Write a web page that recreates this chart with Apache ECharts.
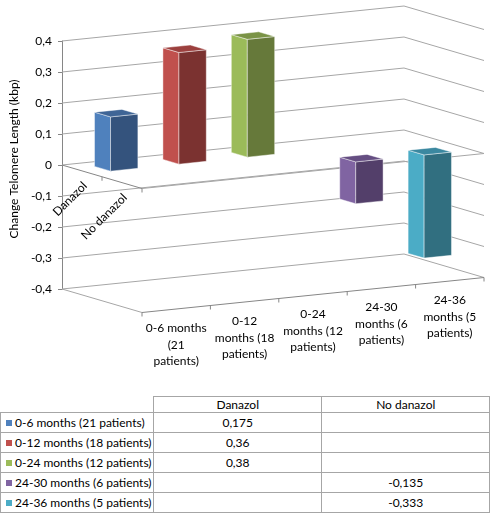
<!DOCTYPE html>
<html>
<head>
<meta charset="utf-8">
<script src="https://cdn.jsdelivr.net/npm/echarts@6/dist/echarts.min.js"></script>
<style>
	body { margin: 0; background: #fff; font-family: Lato, sans-serif; }
	#chart { position: absolute; left: 0; top: 0; width: 490px; height: 394px; }
	#tbl { position: absolute; left: 0; top: 396px; border-collapse: collapse; table-layout: fixed; font-size: 12px; color: #000; }
	#tbl td { border: 1px solid #a6a6a6; padding: 0; text-align: center; white-space: nowrap; overflow: hidden; }
	#tbl tr.hd td { height: 15px; line-height: 15px; }
	#tbl tr.row td { height: 19px; line-height: 19px; }
	#tbl td.corner { border-top: none; border-left: none; }
	#tbl td.nm { text-align: left; padding-left: 5px; }
	#tbl .mk { display: inline-block; width: 6px; height: 6px; margin-right: 3px; vertical-align: 1px; }
</style>
</head>
<body>
<div id="chart"></div>
<table id="tbl"></table>
<script>
// data
var seriesNames = ['0-6 months (21 patients)', '0-12 months (18 patients)', '0-24 months (12 patients)', '24-30 months (6 patients)', '24-36 months (5 patients)'];
var axisLabels = ['0-6 months\n(21\npatients)', '0-12\nmonths (18\npatients)', '0-24\nmonths (12\npatients)', '24-30\nmonths (6\npatients)', '24-36\nmonths (5\npatients)'];
var groups = ['Danazol', 'No danazol'];
var danazol = [0.175, 0.36, 0.38, null, null];
var noDanazol = [null, null, null, -0.135, -0.333];
var yTicks = [-0.4, -0.3, -0.2, -0.1, 0, 0.1, 0.2, 0.3, 0.4];

// bar colours: light side, dark front, top
var palette = [
	{ light: '#4F81BD', dark: '#34537D', top: '#3F6596' },
	{ light: '#C0504D', dark: '#7B3230', top: '#9C403E' },
	{ light: '#9BBB59', dark: '#66793A', top: '#7A9346' },
	{ light: '#8064A2', dark: '#533F6A', top: '#654E82' },
	{ light: '#4BACC6', dark: '#316F80', top: '#3B88A0' }
];

// fake 3d view: depth step in px, skew of the series direction
var DX = 40, DY = 11.75, SKEW = 7, BAR = 0.4;
var NS = seriesNames.length, ND = groups.length;
var FONT = 'Lato';

function proj(api, s, d, v) {
	var p = api.coord([s, v]);
	return [p[0] + d * DX, p[1] - s * SKEW + d * DY];
}

function fmtNum(v) {
	if (v === 0) return '0';
	return String(v).replace('.', ',');
}

var chart = echarts.init(document.getElementById('chart'), null, { renderer: 'canvas' });

// back + side wall gridlines
var wallSeries = {
	type: 'custom',
	silent: true,
	z: 1,
	data: yTicks.map(function (v) { return [0, v]; }),
	encode: { x: 0, y: 1 },
	renderItem: function (params, api) {
		var v = api.value(1);
		return {
			type: 'polyline',
			shape: { points: [proj(api, 0, 0, v), proj(api, NS, 0, v), proj(api, NS, ND, v)] },
			style: { stroke: '#a6a6a6', lineWidth: 1, fill: null }
		};
	}
};

// floor edges, front axis and depth axis
var floorSeries = {
	type: 'custom',
	silent: true,
	z: 2,
	data: [[0, 0]],
	encode: { x: 0, y: 1 },
	renderItem: function (params, api) {
		var lo = yTicks[0];
		var kids = [];
		function line(a, b, col) {
			kids.push({ type: 'line', shape: { x1: a[0], y1: a[1], x2: b[0], y2: b[1] }, style: { stroke: col || '#a6a6a6', lineWidth: 1 } });
		}
		line(proj(api, 0, 0, 0), proj(api, 0, ND, 0), '#868686');
		line(proj(api, 0, ND, 0), proj(api, NS, ND, 0));
		line(proj(api, 0, 0, lo), proj(api, 0, ND, lo));
		line(proj(api, 0, ND, lo), proj(api, NS, ND, lo), '#868686');
		for (var k = 0; k <= NS; k++) {
			var p = proj(api, k, ND, lo);
			line(p, [p[0], p[1] + 4], '#868686');
		}
		for (var j = 1; j <= ND; j++) {
			var q = proj(api, 0, j, 0);
			line(q, [q[0], q[1] + 4], '#868686');
		}
		return { type: 'group', children: kids };
	}
};

// category labels along the front
var frontLabelSeries = {
	type: 'custom',
	silent: true,
	z: 3,
	data: axisLabels.map(function (t, i) { return [i, yTicks[0]]; }),
	encode: { x: 0, y: 1 },
	renderItem: function (params, api) {
		var i = api.value(0);
		var p = proj(api, i + 0.5, ND, yTicks[0]);
		return {
			type: 'text',
			x: p[0], y: p[1] + 11,
			style: {
				text: axisLabels[i], fill: '#000', fontSize: 12, fontFamily: FONT, lineHeight: 16.5,
				align: 'center', verticalAlign: 'top', textAlign: 'center', textVerticalAlign: 'top'
			}
		};
	}
};

// depth labels (Danazol / No danazol)
var depthLabelSeries = {
	type: 'custom',
	silent: true,
	z: 3,
	data: groups.map(function (g, j) { return [0, 0, j]; }),
	encode: { x: 0, y: 1 },
	renderItem: function (params, api) {
		var j = api.value(2);
		var p = proj(api, 0, j + 0.5, 0);
		return {
			type: 'text',
			x: p[0] + 3, y: p[1] + 13,
			rotation: Math.PI / 4,
			style: {
				text: groups[j], fill: '#000', fontSize: 12, fontFamily: FONT,
				align: 'right', verticalAlign: 'middle', textAlign: 'right', textVerticalAlign: 'middle'
			}
		};
	}
};

function makeBarSeries(k) {
	var data = [];
	if (danazol[k] != null) data.push([k, danazol[k], 0]);
	if (noDanazol[k] != null) data.push([k, noDanazol[k], 1]);
	var col = palette[k];
	return {
		type: 'custom',
		name: seriesNames[k],
		z: 5,
		data: data,
		encode: { x: 0, y: 1 },
		renderItem: function (params, api) {
			var i = api.value(0), v = api.value(1), j = api.value(2);
			var s0 = i + 0.5 - BAR / 2, s1 = i + 0.5 + BAR / 2;
			var d0 = j + 0.5 - BAR / 2, d1 = j + 0.5 + BAR / 2;
			var top = Math.max(v, 0), bot = Math.min(v, 0);
			var edge = 'rgba(255,255,255,0.55)';
			var side = [proj(api, s0, d0, top), proj(api, s0, d1, top), proj(api, s0, d1, bot), proj(api, s0, d0, bot)];
			var front = [proj(api, s0, d1, top), proj(api, s1, d1, top), proj(api, s1, d1, bot), proj(api, s0, d1, bot)];
			var lid = [proj(api, s0, d0, top), proj(api, s1, d0, top), proj(api, s1, d1, top), proj(api, s0, d1, top)];
			return {
				type: 'group',
				children: [
					{ type: 'polygon', shape: { points: side }, style: { fill: col.light, stroke: edge, lineWidth: 0.8 } },
					{ type: 'polygon', shape: { points: front }, style: { fill: col.dark, stroke: edge, lineWidth: 0.8 } },
					{ type: 'polygon', shape: { points: lid }, style: { fill: col.top, stroke: edge, lineWidth: 0.8 } }
				]
			};
		}
	};
}

var series = [wallSeries, floorSeries, frontLabelSeries, depthLabelSeries];
for (var k = 0; k < NS; k++) series.push(makeBarSeries(k));

var option = {
	animation: false,
	grid: { left: 58, top: 41, width: 346, height: 248 },
	xAxis: { type: 'value', min: 0, max: NS, show: false },
	yAxis: {
		type: 'value',
		min: -0.4,
		max: 0.4,
		interval: 0.1,
		name: 'Change Telomere Length (kbp)',
		nameLocation: 'middle',
		nameRotate: 90,
		nameGap: 36,
		nameTextStyle: { color: '#000', fontSize: 12, fontFamily: FONT, padding: [0, 0, 0, 12] },
		axisLine: { show: true, lineStyle: { color: '#868686' } },
		axisTick: { show: true, length: 4, lineStyle: { color: '#868686' } },
		axisLabel: {
			margin: 10, color: '#000', fontSize: 12, fontFamily: FONT,
			formatter: function (v) { return fmtNum(Math.round(v * 10) / 10); }
		},
		splitLine: { show: false }
	},
	series: series
};
chart.setOption(option);

// data table under the chart
var cols = [153, 169, 168];
var html = '<colgroup>' + cols.map(function (w) { return '<col style="width:' + w + 'px">'; }).join('') + '</colgroup>';
html += '<tr class="hd"><td class="corner"></td><td>' + groups[0] + '</td><td>' + groups[1] + '</td></tr>';
for (var i = 0; i < NS; i++) {
	html += '<tr class="row"><td class="nm"><span class="mk" style="background:' + palette[i].light + '"></span>' + seriesNames[i] + '</td>'
		+ '<td>' + (danazol[i] == null ? '' : fmtNum(danazol[i])) + '</td>'
		+ '<td>' + (noDanazol[i] == null ? '' : fmtNum(noDanazol[i])) + '</td></tr>';
}
document.getElementById('tbl').innerHTML = html;

window.onresize = function () {
	setTimeout(function () { chart.resize(); }, 200);
};
</script>
</body>
</html>
